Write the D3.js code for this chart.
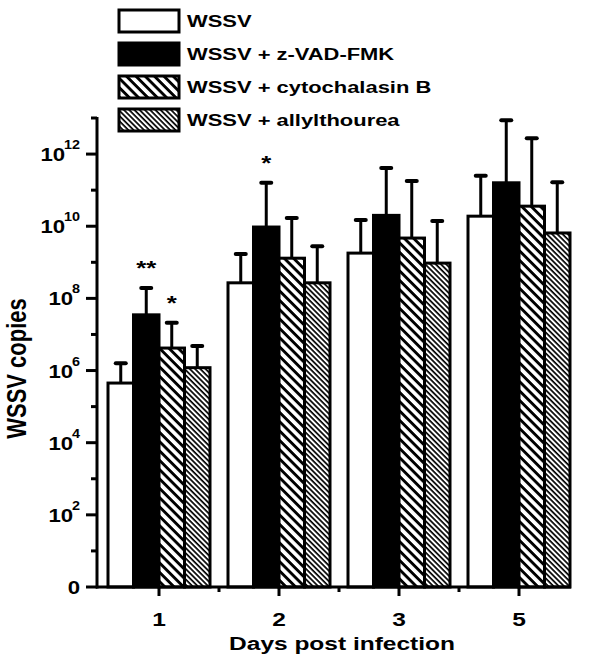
<!DOCTYPE html>
<html>
<head>
<meta charset="utf-8">
<script src="https://cdn.jsdelivr.net/npm/d3@7"></script>
<style>
  body { margin: 0; background: #fff; }
  text { font-family: "Liberation Sans", Arial, sans-serif; font-weight: bold; fill: #000; }
</style>
</head>
<body>
<svg id="chart"></svg>
<script>
const width = 611
const height = 655

const days = ['1', '2', '3', '5']
const groups = ['WSSV', 'WSSV + z-VAD-FMK', 'WSSV + cytochalasin B', 'WSSV + allylthourea']
// mean copies and SD (upper error only)
const meanWSSV = [4.5e5, 2.7e8, 1.8e9, 1.9e10]
const sdWSSV = [1.15e6, 1.43e9, 1.3e10, 2.3e11]
const meanZVAD = [3.5e7, 9.5e9, 2.0e10, 1.6e11]
const sdZVAD = [1.6e8, 1.5e11, 3.9e11, 8.5e12]
const meanCyto = [4.2e6, 1.3e9, 4.7e9, 3.6e10]
const sdCyto = [1.68e7, 1.57e10, 1.75e11, 2.7e12]
const meanAllyl = [1.2e6, 2.7e8, 9.5e8, 6.5e9]
const sdAllyl = [3.6e6, 2.5e9, 1.3e10, 1.6e11]
const stars = [
  { day: '1', group: 1, label: '**' },
  { day: '1', group: 2, label: '*' },
  { day: '2', group: 1, label: '*' }
]
const majorExps = [0, 2, 4, 6, 8, 10, 12]
const minorExps = [1, 3, 5, 7, 9, 11, 13]

const means = [meanWSSV, meanZVAD, meanCyto, meanAllyl]
const sds = [sdWSSV, sdZVAD, sdCyto, sdAllyl]
const fills = ['#fff', '#000', 'url(#hatchWide)', 'url(#hatchFine)']
const sx = 1.29 // the figure is stretched sideways

const svg = d3.select('#chart')
  .attr('width', width)
  .attr('height', height)

// hatch patterns
const defs = svg.append('defs')
function hatch(id, gap, thick) {
  const p = defs.append('pattern')
    .attr('id', id)
    .attr('patternUnits', 'userSpaceOnUse')
    .attr('width', gap)
    .attr('height', gap)
    .attr('patternTransform', 'rotate(45)')
  p.append('rect').attr('width', gap).attr('height', gap).attr('fill', '#fff')
  p.append('rect').attr('width', gap).attr('height', thick).attr('fill', '#000')
}
hatch('hatchWide', 6.6, 2.9)
hatch('hatchFine', 3.7, 1.7)

const x = d3.scaleBand()
  .domain(days)
  .range([99, 579])
  .paddingInner(0)
const groupW = x.bandwidth() * 0.85
const x1 = d3.scaleBand()
  .domain(d3.range(groups.length))
  .range([0, groupW])

const y = d3.scaleLog()
  .domain([1, 1e13])
  .range([587, 118])

const rows = []
groups.forEach((g, gi) => {
  days.forEach((d, di) => {
    rows.push({ day: d, group: gi, mean: means[gi][di], sd: sds[gi][di] })
  })
})
const barX = (d) => x(d.day) + (x.bandwidth() - groupW) / 2 + x1(d.group)

// bars
svg.append('g')
  .selectAll('rect')
  .data(rows)
  .join('rect')
  .attr('x', barX)
  .attr('width', x1.bandwidth())
  .attr('y', (d) => y(d.mean))
  .attr('height', (d) => y(1) - y(d.mean))
  .attr('fill', (d) => fills[d.group])
  .attr('stroke', '#000')
  .attr('stroke-width', 3)

// error bars (upper only)
const err = svg.append('g')
  .selectAll('g')
  .data(rows)
  .join('g')
  .attr('transform', (d) => `translate(${barX(d) + x1.bandwidth() / 2},0)`)
err.append('line')
  .attr('y1', (d) => y(d.mean))
  .attr('y2', (d) => y(d.mean + d.sd))
  .attr('stroke', '#000')
  .attr('stroke-width', 3)
err.append('line')
  .attr('x1', -5)
  .attr('x2', 5)
  .attr('y1', (d) => y(d.mean + d.sd))
  .attr('y2', (d) => y(d.mean + d.sd))
  .attr('stroke', '#000')
  .attr('stroke-width', 4)
  .attr('stroke-linecap', 'round')

// significance stars
svg.append('g')
  .selectAll('text')
  .data(stars)
  .join('text')
  .attr('text-anchor', 'middle')
  .style('font-size', '20px')
  .attr('transform', (s) => {
    const r = rows.find((d) => d.day === s.day && d.group === s.group)
    return `translate(${barX(r) + x1.bandwidth() / 2},${y(r.mean + r.sd) - 13}) scale(${sx},1)`
  })
  .text((s) => s.label)

// y axis
const yAxis = svg.append('g')
yAxis.append('line')
  .attr('x1', 97).attr('x2', 97)
  .attr('y1', y(1e13) - 1).attr('y2', y(1) + 1.5)
  .attr('stroke', '#000').attr('stroke-width', 3)
yAxis.selectAll('.major')
  .data(majorExps)
  .join('line')
  .attr('x1', 86).attr('x2', 97)
  .attr('y1', (e) => y(Math.pow(10, e)))
  .attr('y2', (e) => y(Math.pow(10, e)))
  .attr('stroke', '#000').attr('stroke-width', 3)
yAxis.selectAll('.minor')
  .data(minorExps)
  .join('line')
  .attr('x1', 91).attr('x2', 97)
  .attr('y1', (e) => y(Math.pow(10, e)))
  .attr('y2', (e) => y(Math.pow(10, e)))
  .attr('stroke', '#000').attr('stroke-width', 3)
const yLab = yAxis.selectAll('text')
  .data(majorExps)
  .join('text')
  .attr('text-anchor', 'end')
  .attr('transform', (e) => `translate(80,${y(Math.pow(10, e)) + 7}) scale(1.2,1)`)
yLab.append('tspan')
  .style('font-size', '18.5px')
  .text((e) => (e === 0 ? '0' : '10'))
yLab.filter((e) => e > 0)
  .append('tspan')
  .style('font-size', '12px')
  .attr('dx', -1)
  .attr('dy', -12)
  .text((e) => e)

svg.append('text')
  .attr('text-anchor', 'middle')
  .style('font-size', '22px')
  .attr('transform', `translate(26,${y(1e6) - 2}) scale(${sx},1) rotate(-90)`)
  .text('WSSV copies')

// x axis
const xAxis = svg.append('g')
xAxis.append('line')
  .attr('x1', 96).attr('x2', 571)
  .attr('y1', y(1)).attr('y2', y(1))
  .attr('stroke', '#000').attr('stroke-width', 3)
xAxis.selectAll('.major')
  .data(days)
  .join('line')
  .attr('x1', (d) => x(d) + x.bandwidth() / 2)
  .attr('x2', (d) => x(d) + x.bandwidth() / 2)
  .attr('y1', y(1)).attr('y2', y(1) + 9)
  .attr('stroke', '#000').attr('stroke-width', 3)
xAxis.selectAll('.minor')
  .data(days.slice(1))
  .join('line')
  .attr('x1', (d) => x(d))
  .attr('x2', (d) => x(d))
  .attr('y1', y(1)).attr('y2', y(1) + 5)
  .attr('stroke', '#000').attr('stroke-width', 3)
xAxis.selectAll('text')
  .data(days)
  .join('text')
  .attr('text-anchor', 'middle')
  .style('font-size', '19px')
  .attr('transform', (d) => `translate(${x(d) + x.bandwidth() / 2},626) scale(${sx},1)`)
  .text((d) => d)

svg.append('text')
  .attr('text-anchor', 'middle')
  .style('font-size', '19px')
  .attr('transform', `translate(342,650) scale(${sx},1)`)
  .text('Days post infection')

// legend
const legend = svg.append('g')
  .selectAll('g')
  .data(groups)
  .join('g')
  .attr('transform', (d, i) => `translate(119,${10 + i * 33})`)
legend.append('rect')
  .attr('width', 60)
  .attr('height', 22)
  .attr('fill', (d, i) => fills[i])
  .attr('stroke', '#000')
  .attr('stroke-width', 3)
legend.append('text')
  .style('font-size', '17px')
  .attr('transform', `translate(68,17) scale(${sx},1)`)
  .text((d) => d)
</script>
</body>
</html>
